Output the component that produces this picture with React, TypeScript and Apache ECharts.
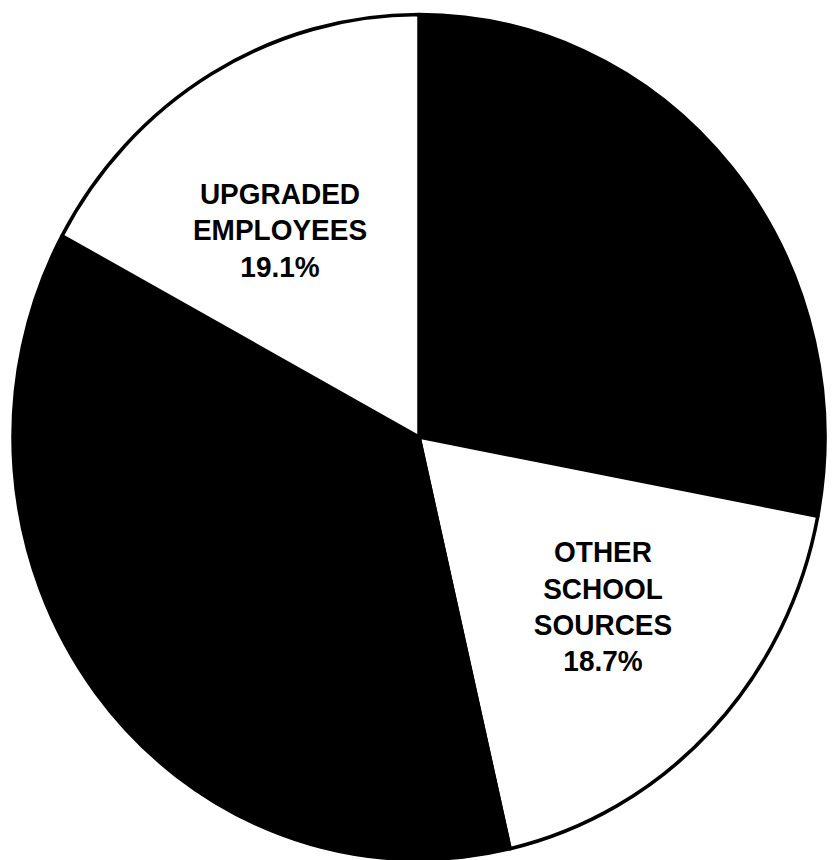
import React, { useEffect, useRef } from "react";
import * as echarts from "echarts";

// Slice shares as drawn in the picture (clockwise from 12 o'clock)
const sliceNames = ["", "OTHER\nSCHOOL\nSOURCES", "", "UPGRADED\nEMPLOYEES"];
const sliceShares = [28.0, 18.4, 36.5, 17.1];
const printedPercents = ["", "18.7%", "", "19.1%"];
const sliceColors = ["#000000", "#ffffff", "#000000", "#ffffff"];
// label anchor points (style/layout only)
const labelAnchors: Array<[number, number] | null> = [null, [603, 600], null, [280, 238]];

export default function App() {
  const ref = useRef<HTMLDivElement>(null);
  useEffect(() => {
    if (!ref.current) return;
    const chart = echarts.init(ref.current, null, { renderer: "svg" });
    chart.setOption({
      animation: false,
      backgroundColor: "#ffffff",
      series: [
        {
          type: "pie",
          center: [419, 437],
          radius: [0, 406],
          startAngle: 90,
          clockwise: true,
          silent: true,
          labelLine: { show: false },
          itemStyle: { borderColor: "#000000", borderWidth: 3.5 },
          label: {
            show: true,
            position: "inside",
            color: "#000000",
            fontFamily: "Liberation Sans, Arial, sans-serif",
            fontWeight: "bold",
            fontSize: 28,
            lineHeight: 35,
            align: "center",
            verticalAlign: "middle",
            formatter: (p: any) => (p.name ? p.name + "\n" + printedPercents[p.dataIndex] : ""),
          },
          labelLayout: (p: any) => {
            const a = labelAnchors[p.dataIndex];
            return a ? { x: a[0], y: a[1], align: "center", verticalAlign: "middle" } : {};
          },
          data: sliceShares.map((v, i) => ({
            value: v,
            name: sliceNames[i],
            itemStyle: { color: sliceColors[i] },
            label: { show: sliceNames[i] !== "" },
          })),
        },
      ],
    });
    return () => chart.dispose();
  }, []);
  return (
    <div
      ref={ref}
      style={{
        position: "absolute",
        left: 0,
        top: 0,
        width: 832,
        height: 860,
        transform: "scaleY(1.0406)",
        transformOrigin: "416px 437px",
      }}
    />
  );
}
